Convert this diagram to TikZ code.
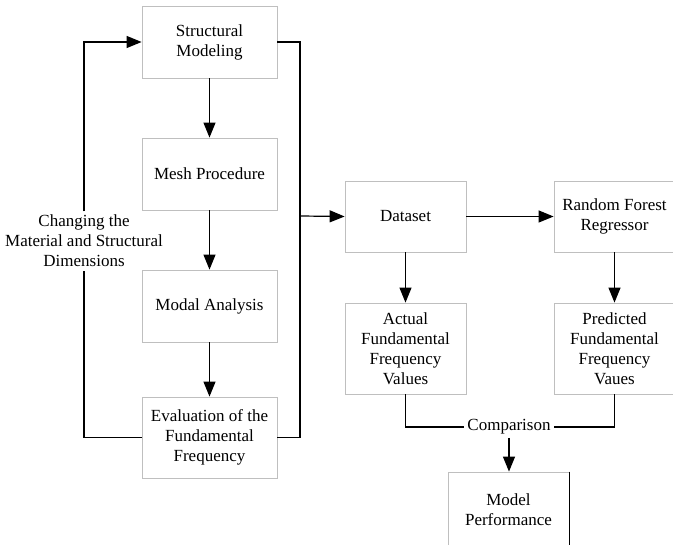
\documentclass[tikz,border=0pt]{standalone}
\usepackage{fontspec}
\setmainfont{Liberation Serif}
\usetikzlibrary{arrows.meta}
\begin{document}
\begin{tikzpicture}[x=1pt,y=1pt,
    box/.style={draw=black!25,line width=0.8pt,align=center,inner sep=0pt,
        font=\fontsize{17}{20}\selectfont},
    lbl/.style={align=center,font=\fontsize{17}{20}\selectfont},
    line/.style={line width=1.2pt},
    arr/.style={line width=1.2pt,-{Triangle[length=15pt,width=12pt]}}]
        \useasboundingbox (0,0) rectangle (673,-545);
        % left column
        \node[box,minimum width=135pt,minimum height=72pt] (sm) at (209.5,-42) {Structural\\Modeling};
        \node[box,minimum width=135pt,minimum height=72pt] (mp) at (209.5,-174) {Mesh Procedure};
        \node[box,minimum width=135pt,minimum height=72pt] (ma) at (209.5,-306) {Modal Analysis};
        \node[box,minimum width=135pt,minimum height=81pt] (ev) at (209.5,-437.5) {Evaluation of the\\Fundamental\\Frequency};
        \node[lbl] (chg) at (84,-241) {Changing the\\Material and Structural\\Dimensions};
        \draw[arr] (sm) -- (mp);
        \draw[arr] (mp) -- (ma);
        \draw[arr] (ma) -- (ev);
        \draw[line] (ev.west) -| (chg.south);
        \draw[arr] (chg.north) |- (sm.west);
        \coordinate (bus) at (300,-216);
        \draw[line] (sm.east) -| (bus) |- (ev.east);
        % right part
        \node[box,minimum width=121pt,minimum height=71pt] (ds) at (405.5,-216.5) {Dataset};
        \node[box,minimum width=121pt,minimum height=71pt] (rf) at (614.5,-216.5) {Random Forest\\Regressor};
        \node[box,minimum width=121pt,minimum height=91pt] (act) at (405.5,-348.5) {Actual\\Fundamental\\Frequency\\Values};
        \node[box,minimum width=121pt,minimum height=91pt] (pred) at (614.5,-348.5) {Predicted\\Fundamental\\Frequency\\Vaues};
        \node[lbl] (cmp) at (509,-427) {Comparison};
        \node[box,minimum width=121pt,minimum height=76pt] (mperf) at (508.5,-510) {Model\\Performance};
        \draw[line] (mperf.north east) -- (mperf.south east);
        \draw[arr] (bus) -- (ds.west);
        \draw[arr] (ds) -- (rf);
        \draw[arr] (ds) -- (act);
        \draw[arr] (rf) -- (pred);
        \draw[line] (act.south) |- (cmp.west);
        \draw[line] (pred.south) |- (cmp.east);
        \draw[arr] (cmp.south) -- (cmp.south |- mperf.north);
    \end{tikzpicture}
\end{document}
